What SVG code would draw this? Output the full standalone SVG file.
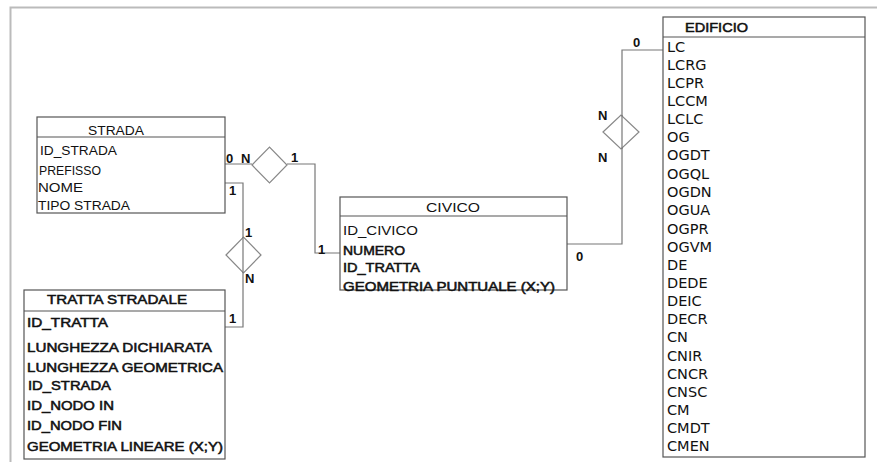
<svg xmlns="http://www.w3.org/2000/svg" width="878" height="462" viewBox="0 0 878 462">
<style>
text{font-family:"Liberation Sans",Arial,sans-serif;font-size:13.5px;fill:#111}
.b{stroke:#111;stroke-width:0.55}
.e text{font-family:"DejaVu Sans","Liberation Sans",sans-serif;font-size:14.5px}
.box{fill:#fff;stroke:#555;stroke-width:1.2}
.hd{fill:none;stroke:#555;stroke-width:1.2}
.c{fill:none;stroke:#777;stroke-width:1.2}
.d{fill:#fff;stroke:#888;stroke-width:1.2}
.lb{font-weight:bold;font-size:13px}
</style>
<rect width="878" height="462" fill="#fff"/>
<path d="M10.5 462V7.5H877" fill="none" stroke="#bbb" stroke-width="2"/>
<g id="connectors">
<path class="c" d="M225 164H252M287 164H315V253H340"/>
<polygon class="d" points="252,165 269.5,147 287,165 269.5,183"/>
<path class="c" d="M225 183H243V327H225"/>
<polygon class="d" points="226,255 243.5,237 261,255 243.5,273"/>
<line class="c" x1="243" y1="237" x2="243" y2="273"/>
<path class="c" d="M567 244H622V50H663"/>
<polygon class="d" points="603,132 621,115 639,132 621,149"/>
<line class="c" x1="622" y1="115" x2="622" y2="149"/>
<text class="lb" x="226" y="163">0</text>
<text class="lb" x="241" y="163">N</text>
<text class="lb" x="291" y="162">1</text>
<text class="lb" x="229" y="195">1</text>
<text class="lb" x="245" y="237">1</text>
<text class="lb" x="245" y="283">N</text>
<text class="lb" x="229" y="323">1</text>
<text class="lb" x="318" y="254">1</text>
<text class="lb" x="576" y="261">0</text>
<text class="lb" x="633" y="47">0</text>
<text class="lb" x="598" y="120">N</text>
<text class="lb" x="598" y="162">N</text>
</g>
<g id="strada">
<rect class="box" x="37" y="117" width="188" height="96"/>
<line class="hd" x1="37" y1="137" x2="225" y2="137"/>
<text x="88" y="135" textLength="56" lengthAdjust="spacingAndGlyphs">STRADA</text>
<text x="40" y="155" textLength="77" lengthAdjust="spacingAndGlyphs">ID_STRADA</text>
<text x="39" y="175" textLength="62" lengthAdjust="spacingAndGlyphs">PREFISSO</text>
<text x="38" y="192" textLength="45" lengthAdjust="spacingAndGlyphs">NOME</text>
<text x="38" y="210" textLength="92" lengthAdjust="spacingAndGlyphs">TIPO STRADA</text>
</g>
<g id="tratta">
<rect class="box" x="24" y="290" width="201" height="169"/>
<line class="hd" x1="24" y1="311" x2="225" y2="311"/>
<text class="b" x="47" y="304" textLength="140" lengthAdjust="spacingAndGlyphs">TRATTA STRADALE</text>
<text class="b" x="27" y="327" textLength="81" lengthAdjust="spacingAndGlyphs">ID_TRATTA</text>
<text class="b" x="27" y="352" textLength="185" lengthAdjust="spacingAndGlyphs">LUNGHEZZA DICHIARATA</text>
<text class="b" x="27" y="372" textLength="196" lengthAdjust="spacingAndGlyphs">LUNGHEZZA GEOMETRICA</text>
<text class="b" x="28" y="390" textLength="83" lengthAdjust="spacingAndGlyphs">ID_STRADA</text>
<text class="b" x="27" y="410" textLength="87" lengthAdjust="spacingAndGlyphs">ID_NODO IN</text>
<text class="b" x="27" y="430" textLength="95" lengthAdjust="spacingAndGlyphs">ID_NODO FIN</text>
<text class="b" x="27" y="451" textLength="196" lengthAdjust="spacingAndGlyphs">GEOMETRIA LINEARE (X;Y)</text>
</g>
<g id="civico">
<rect class="box" x="340" y="197" width="227" height="93"/>
<line class="hd" x1="340" y1="216" x2="567" y2="216"/>
<text x="426" y="212" textLength="54" lengthAdjust="spacingAndGlyphs">CIVICO</text>
<text x="343" y="235" textLength="75" lengthAdjust="spacingAndGlyphs">ID_CIVICO</text>
<text class="b" x="343" y="255" textLength="62" lengthAdjust="spacingAndGlyphs">NUMERO</text>
<text class="b" x="343" y="272" textLength="77" lengthAdjust="spacingAndGlyphs">ID_TRATTA</text>
<text class="b" x="343" y="291" textLength="212" lengthAdjust="spacingAndGlyphs">GEOMETRIA PUNTUALE (X;Y)</text>
</g>
<g id="edificio">
<rect class="box" x="663" y="17" width="202" height="440"/>
<line class="hd" x1="663" y1="37" x2="865" y2="37"/>
<text class="b" x="685" y="32" textLength="63" lengthAdjust="spacingAndGlyphs">EDIFICIO</text>
<g class="e">
<text x="667" y="52">LC</text>
<text x="667" y="70">LCRG</text>
<text x="667" y="88">LCPR</text>
<text x="667" y="106">LCCM</text>
<text x="667" y="124">LCLC</text>
<text x="667" y="142">OG</text>
<text x="667" y="160">OGDT</text>
<text x="667" y="179">OGQL</text>
<text x="667" y="197">OGDN</text>
<text x="667" y="215">OGUA</text>
<text x="667" y="234">OGPR</text>
<text x="667" y="252">OGVM</text>
<text x="667" y="270">DE</text>
<text x="667" y="288">DEDE</text>
<text x="667" y="306">DEIC</text>
<text x="667" y="324">DECR</text>
<text x="667" y="342">CN</text>
<text x="667" y="361">CNIR</text>
<text x="667" y="379">CNCR</text>
<text x="667" y="397">CNSC</text>
<text x="667" y="415">CM</text>
<text x="667" y="433">CMDT</text>
<text x="667" y="451">CMEN</text>
</g>
</g>
</svg>
